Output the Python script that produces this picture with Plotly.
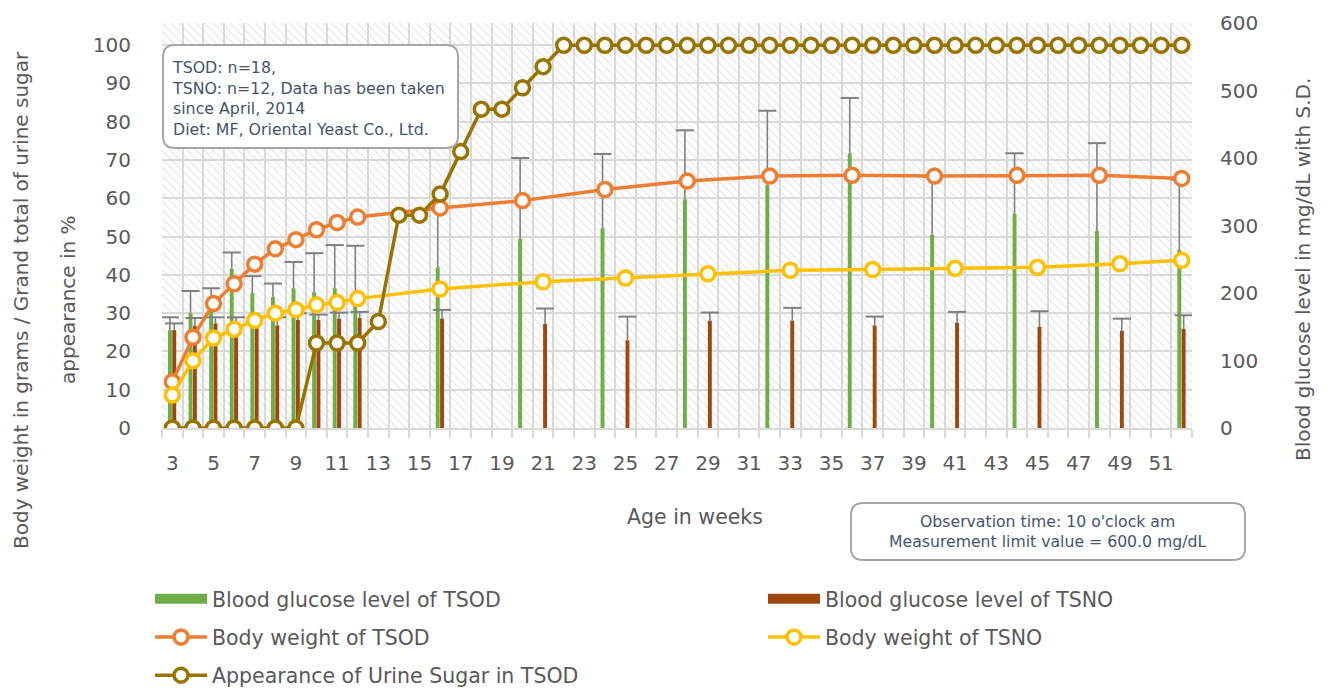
import plotly.graph_objects as go

# ---------------- data ----------------
weeks_all = [3, 4, 5, 6, 7, 8, 9, 10, 11, 12, 13, 14, 15, 16, 17, 18, 19, 20, 21, 22,
             23, 24, 25, 26, 27, 28, 29, 30, 31, 32, 33, 34, 35, 36, 37, 38, 39, 40, 41, 42,
             43, 44, 45, 46, 47, 48, 49, 50, 51, 52]
tick_weeks = [3, 5, 7, 9, 11, 13, 15, 17, 19, 21, 23, 25, 27, 29, 31, 33, 35, 37, 39, 41,
              43, 45, 47, 49, 51]
tick_labels = [str(w) for w in tick_weeks]

tsod_weeks = [3, 4, 5, 6, 7, 8, 9, 10, 11, 12, 16, 20, 24, 28, 32, 36, 40, 44, 48, 52]
tsod_glucose = [145, 170, 180, 236, 200, 194, 207, 201, 207, 185, 238, 280, 296, 339, 360, 407, 286, 317, 292, 264]
tsod_glucose_sd = [19, 33, 27, 24, 25, 20, 39, 58, 64, 85, 88, 120, 110, 102, 110, 82, 86, 90, 130, 104]
tsod_weight = [12.1, 23.7, 32.5, 37.7, 42.8, 46.8, 49.2, 51.8, 53.7, 55.1, 57.5, 59.4, 62.3, 64.5, 65.8,
               66.0, 65.8, 66.0, 66.0, 65.2]

tsno_weeks = [3, 4, 5, 6, 7, 8, 9, 10, 11, 12, 16, 21, 25, 29, 33, 37, 41, 45, 49, 52]
tsno_glucose = [145, 151, 155, 155, 155, 152, 160, 160, 162, 163, 162, 154, 130, 159, 159, 152, 156, 150, 144, 147]
tsno_glucose_sd = [10, 12, 9, 9, 10, 12, 10, 8, 9, 9, 13, 23, 35, 12, 19, 13, 16, 23, 18, 20]
tsno_weight = [8.6, 17.6, 23.5, 25.8, 28.1, 30.0, 30.9, 32.2, 32.8, 33.8, 36.3, 38.2, 39.2, 40.3, 41.2,
               41.4, 41.7, 42.0, 42.9, 43.8]

urine_sugar = [0, 0, 0, 0, 0, 0, 0, 22.2, 22.2, 22.2, 27.8, 55.6, 55.6, 61.1, 72.2, 83.3, 83.3, 88.9, 94.4, 100,
               100, 100, 100, 100, 100, 100, 100, 100, 100, 100, 100, 100, 100, 100, 100, 100, 100, 100, 100, 100,
               100, 100, 100, 100, 100, 100, 100, 100, 100, 100]

# ---------------- style ----------------
GREEN = "#70AD47"
BROWN = "#9E480E"
ORANGE = "#ED7D31"
YELLOW = "#FFC000"
GOLD = "#997300"
GRID = "#D9D9D9"
TXT = "#595959"
BOXTXT = "#44546A"
FONT = "DejaVu Sans"

W, H = 1327, 689
PL, PR, PT, PB = 162, 1192, 23, 428


def px(x):
    return (x - PL) / (PR - PL)


def py(y):
    return (PB - y) / (PB - PT)


def rounded_box(x0, y0, x1, y1, r=12):
    X0, X1 = px(x0), px(x1)
    Y0, Y1 = py(y0), py(y1)  # Y0 top, Y1 bottom
    rx = r / (PR - PL)
    ry = r / (PB - PT)
    return (f"M{X0 + rx},{Y0} L{X1 - rx},{Y0} Q{X1},{Y0} {X1},{Y0 - ry} "
            f"L{X1},{Y1 + ry} Q{X1},{Y1} {X1 - rx},{Y1} L{X0 + rx},{Y1} "
            f"Q{X0},{Y1} {X0},{Y1 + ry} L{X0},{Y0 - ry} Q{X0},{Y0} {X0 + rx},{Y0} Z")


BAR_W = 0.19
OFF_G = -0.21
OFF_B = 0.0

fig = go.Figure()

# hatched plot background
fig.add_trace(go.Bar(
    x=[(weeks_all[0] + weeks_all[-1]) / 2], y=[600], width=[len(weeks_all)],
    marker=dict(color="rgba(0,0,0,0)", line_width=0,
                pattern=dict(shape="\\", fgcolor="#D3D3D3", size=6, solidity=0.25, fillmode="overlay")),
    showlegend=False, hoverinfo="skip", yaxis="y", xaxis="x"))

fig.add_trace(go.Bar(
    x=tsod_weeks, y=tsod_glucose, width=BAR_W, offset=OFF_G,
    marker=dict(color=GREEN, line_width=0), name="Blood glucose level of TSOD",
    showlegend=False, legendgroup="g1"))
fig.add_trace(go.Bar(
    x=tsno_weeks, y=tsno_glucose, width=BAR_W, offset=OFF_B,
    marker=dict(color=BROWN, line_width=0), name="Blood glucose level of TSNO",
    showlegend=False, legendgroup="g2"))

# wide legend swatches for the bar series (legend entries only, no data)
fig.add_trace(go.Scatter(x=[None], y=[None], mode="lines", line=dict(color=GREEN, width=14),
                         name="Blood glucose level of TSOD", legend="legend", legendgroup="g1",
                         hoverinfo="skip"))
fig.add_trace(go.Scatter(x=[None], y=[None], mode="lines", line=dict(color=BROWN, width=14),
                         name="Blood glucose level of TSNO", legend="legend2", legendgroup="g2",
                         hoverinfo="skip"))

# S.D. whiskers (upper only)
for wk, val, sd, off in [(tsod_weeks, tsod_glucose, tsod_glucose_sd, OFF_G),
                         (tsno_weeks, tsno_glucose, tsno_glucose_sd, OFF_B)]:
    fig.add_trace(go.Scatter(
        x=[w + off + BAR_W / 2 for w in wk],
        y=[v + s for v, s in zip(val, sd)],
        mode="markers",
        marker=dict(symbol="line-ew-open", size=13, line=dict(color="#808080", width=2), color="#808080"),
        error_y=dict(type="data", symmetric=False, array=[0] * len(sd), arrayminus=sd,
                     width=0, thickness=1.6, color="#808080"),
        showlegend=False, hoverinfo="skip", xaxis="x", yaxis="y"))

fig.add_trace(go.Scatter(
    x=tsod_weeks, y=tsod_weight, mode="lines+markers", name="Body weight of TSOD",
    line=dict(color=ORANGE, width=3.5),
    marker=dict(size=14, color="white", line=dict(color=ORANGE, width=3.5)),
    yaxis="y2", legend="legend", legendgroup="g3"))
fig.add_trace(go.Scatter(
    x=tsno_weeks, y=tsno_weight, mode="lines+markers", name="Body weight of TSNO",
    line=dict(color=YELLOW, width=3.5),
    marker=dict(size=14, color="white", line=dict(color=YELLOW, width=3.5)),
    yaxis="y2", legend="legend2", legendgroup="g4"))
fig.add_trace(go.Scatter(
    x=weeks_all, y=urine_sugar, mode="lines+markers", name="Appearance of Urine Sugar in TSOD",
    line=dict(color=GOLD, width=3.5),
    marker=dict(size=14, color="white", line=dict(color=GOLD, width=3.5)),
    yaxis="y2", legend="legend", legendgroup="g5"))

legend_common = dict(font=dict(family=FONT, size=20.5, color=TXT), bgcolor="rgba(0,0,0,0)",
                     orientation="v", xanchor="left", yanchor="top", tracegroupgap=8.5,
                     itemwidth=52, traceorder="grouped")

fig.update_layout(
    width=W, height=H,
    margin=dict(l=PL, r=W - PR, t=PT, b=H - PB, pad=0, autoexpand=False),
    paper_bgcolor="white", plot_bgcolor="white",
    barmode="overlay",
    showlegend=True,
    font=dict(family=FONT, color=TXT),
    xaxis=dict(range=[weeks_all[0] - 0.5, weeks_all[-1] + 0.5], tickmode="array",
               tickvals=tick_weeks, ticktext=tick_labels, showgrid=False, ticks="",
               tickfont=dict(size=20, color=TXT), ticklabelstandoff=16,
               showline=True, linecolor=GRID, linewidth=2, zeroline=False,
               minor=dict(tickmode="linear", tick0=weeks_all[0] - 0.5, dtick=1, showgrid=True,
                          gridcolor=GRID, gridwidth=2, ticks="outside", ticklen=8,
                          tickcolor=GRID, tickwidth=2)),
    yaxis=dict(range=[0, 600], side="right", tickmode="linear", tick0=0, dtick=100,
               showgrid=False, zeroline=False, ticks="", tickfont=dict(size=20, color=TXT),
               ticklabelstandoff=27),
    yaxis2=dict(range=[0, 105.8], side="left", overlaying="y", tickmode="linear", tick0=0, dtick=10,
                showgrid=True, gridcolor=GRID, gridwidth=2, zeroline=False, ticks="",
                tickfont=dict(size=20, color=TXT), ticklabelstandoff=30),
    legend=dict(x=px(150), y=py(579), **legend_common),
    legend2=dict(x=px(763), y=py(579), **legend_common),
)

# text boxes
fig.add_shape(type="path", xref="paper", yref="paper", path=rounded_box(163, 45, 458, 148),
              line=dict(color="#A6A6A6", width=2), fillcolor="white", layer="above")
fig.add_shape(type="path", xref="paper", yref="paper", path=rounded_box(851, 503, 1245, 560),
              line=dict(color="#A6A6A6", width=2), fillcolor="white", layer="above")

fig.add_annotation(xref="paper", yref="paper", x=px(170), y=py(56), xanchor="left", yanchor="top",
                   align="left", showarrow=False,
                   text="TSOD: n=18,<br>TSNO: n=12, Data has been taken<br>since April, 2014<br>"
                        "Diet: MF, Oriental Yeast Co., Ltd.",
                   font=dict(family=FONT, size=15.8, color=BOXTXT))
fig.add_annotation(xref="paper", yref="paper", x=px(1048), y=py(531), xanchor="center", yanchor="middle",
                   align="center", showarrow=False,
                   text="Observation time: 10 o'clock am<br>Measurement limit value = 600.0 mg/dL",
                   font=dict(family=FONT, size=15.7, color=BOXTXT))

# axis titles
fig.add_annotation(xref="paper", yref="paper", x=px(695), y=py(517), xanchor="center", yanchor="middle",
                   showarrow=False, text="Age in weeks", font=dict(family=FONT, size=20.5, color=TXT))
fig.add_annotation(xref="paper", yref="paper", x=px(21), y=py(300), xanchor="center", yanchor="middle",
                   showarrow=False, textangle=-90,
                   text="Body weight in grams / Grand total of urine sugar",
                   font=dict(family=FONT, size=20, color=TXT))
fig.add_annotation(xref="paper", yref="paper", x=px(68), y=py(300), xanchor="center", yanchor="middle",
                   showarrow=False, textangle=-90,
                   text="appearance in %", font=dict(family=FONT, size=20, color=TXT))
fig.add_annotation(xref="paper", yref="paper", x=px(1303), y=py(270), xanchor="center", yanchor="middle",
                   showarrow=False, textangle=-90,
                   text="Blood glucose level in mg/dL with S.D.",
                   font=dict(family=FONT, size=20, color=TXT))

fig.write_html("out.html", post_script="document.body.style.margin='0';",
               config={"displayModeBar": False})
